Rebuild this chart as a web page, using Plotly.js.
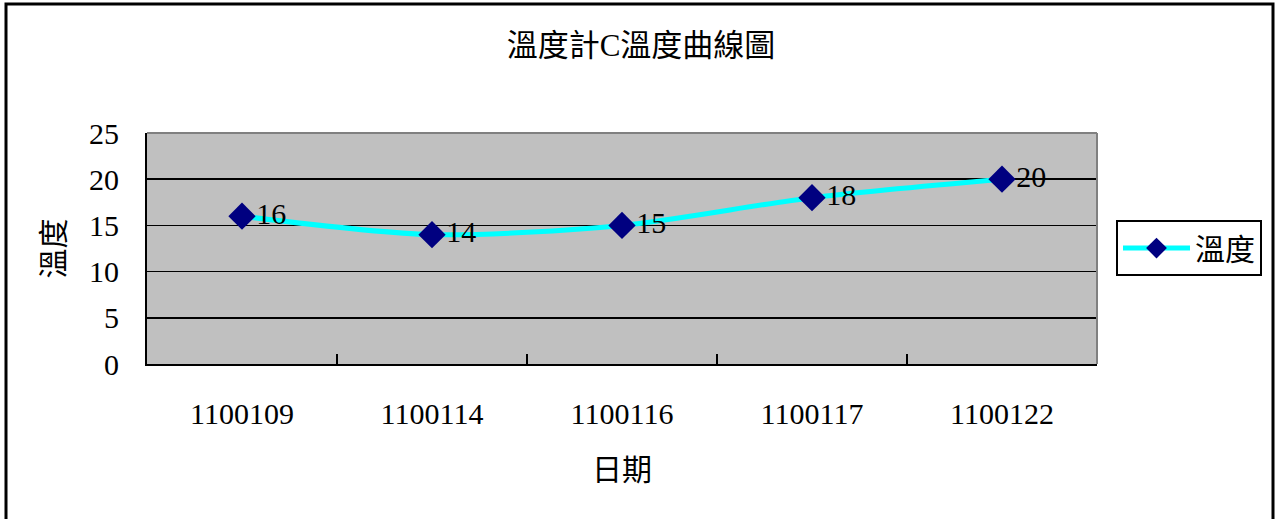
<!DOCTYPE html>
<html>
<head>
<meta charset="utf-8">
<script src="https://cdn.plot.ly/plotly-3.0.1.min.js"></script>
<style>
html,body{margin:0;padding:0;background:#fff;}
#chart{width:1282px;height:519px;}
</style>
</head>
<body>
<div id="chart"></div>
<script>
const chartTitle = "溫度計C溫度曲線圖";
const seriesName = "溫度";
const dates = ["1100109", "1100114", "1100116", "1100117", "1100122"];
const temps = [16, 14, 15, 18, 20];
const xTitle = "日期";
const yTitle = "溫度";

const FONT = "Liberation Serif, 'Noto Sans CJK TC', serif";

const trace = {
  type: "scatter",
  mode: "lines+markers+text",
  x: dates,
  y: temps,
  name: seriesName,
  text: temps.map(String),
  textposition: "middle right",
  textfont: {family: FONT, size: 30, color: "#000"},
  line: {color: "#00FFFF", width: 5, shape: "spline", smoothing: 0.8},
  marker: {symbol: "diamond", size: 21, color: "#000080", line: {width: 0}},
  cliponaxis: false
};

const layout = {
  width: 1282,
  height: 519,
  margin: {l: 147, r: 185, t: 133, b: 155},
  paper_bgcolor: "#ffffff",
  plot_bgcolor: "#C0C0C0",
  font: {family: FONT, size: 30, color: "#000"},
  title: {
    text: chartTitle,
    font: {family: FONT, size: 31, color: "#000"},
    x: 0.5, xanchor: "center",
    y: 1 - 45/519, yanchor: "middle", yref: "container"
  },
  showlegend: true,
  legend: {
    x: 1.02, xanchor: "left",
    y: 0.502, yanchor: "middle",
    bordercolor: "#000", borderwidth: 2,
    bgcolor: "#fff",
    itemwidth: 67,
    font: {family: FONT, size: 30, color: "#000"}
  },
  xaxis: {
    type: "category",
    range: [-0.5, 4.5],
    showgrid: false,
    zeroline: false,
    showline: true, linecolor: "#000", linewidth: 2,
    ticks: "inside", tickson: "boundaries", ticklen: 10, tickwidth: 1.5, tickcolor: "#000",
    ticklabelstandoff: 22,
    tickfont: {family: FONT, size: 30},
    automargin: false,
    title: {text: xTitle, font: {family: FONT, size: 30}, standoff: 30}
  },
  yaxis: {
    range: [0, 25],
    dtick: 5,
    showgrid: true, gridcolor: "#000", gridwidth: 1.5,
    zeroline: false,
    showline: true, linecolor: "#000", linewidth: 2,
    ticks: "inside", ticklen: 8, tickwidth: 1.5, tickcolor: "#000",
    ticklabelstandoff: 20,
    tickfont: {family: FONT, size: 30},
    automargin: false,
    title: {text: yTitle, font: {family: FONT, size: 30}, standoff: 16}
  },
  shapes: [
    {type: "line", xref: "paper", yref: "paper", x0: 0, x1: 1, y0: 1, y1: 1, line: {color: "#808080", width: 2}},
    {type: "line", xref: "paper", yref: "paper", x0: 1, x1: 1, y0: 0, y1: 1, line: {color: "#808080", width: 2}},
    {type: "rect", xref: "paper", yref: "paper",
     x0: (6-147)/950, x1: (1273-147)/950,
     y0: (364-522)/231, y1: (364-4)/231,
     line: {color: "#000", width: 3}, fillcolor: "rgba(0,0,0,0)"}
  ]
};

Plotly.newPlot("chart", [trace], layout, {displayModeBar: false, staticPlot: true});
</script>
</body>
</html>
